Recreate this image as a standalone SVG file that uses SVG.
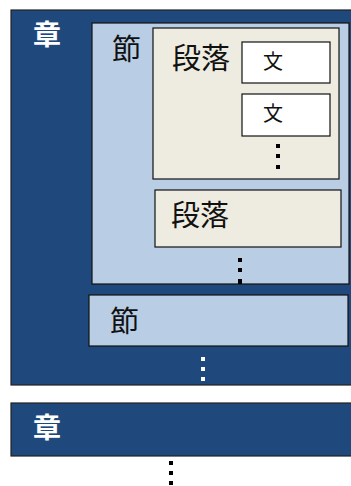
<svg xmlns="http://www.w3.org/2000/svg" width="351" height="486" viewBox="0 0 351 486">
<style>
.chap{fill:#1F497D;stroke:#222;stroke-width:1.2}
.sec{fill:#B9CDE5;stroke:#111;stroke-width:1.2}
.para{fill:#EEECE1;stroke:#111;stroke-width:1.2}
.sent{fill:#FFFFFF;stroke:#111;stroke-width:1.2}
.lw{font-family:"Noto Sans CJK JP","Noto Sans CJK SC",sans-serif;font-weight:bold;font-size:28px;fill:#FFFFFF}
.lb{font-family:"Noto Sans CJK JP","Noto Sans CJK SC",sans-serif;font-size:29px;fill:#111}
.ls{font-family:"Noto Sans CJK JP","Noto Sans CJK SC",sans-serif;font-size:20px;fill:#111}
.dk{fill:#000}
.dw{fill:#FFF}
</style>
<g id="chapter1">
<rect class="chap" x="11" y="10" width="345" height="375"/>
<text class="lw" x="33" y="45">章</text>
</g>
<g id="section1">
<rect class="sec" x="92" y="23" width="257" height="261"/>
<text class="lb" x="112" y="60">節</text>
</g>
<g id="paragraph1">
<rect class="para" x="153" y="28" width="186" height="151"/>
<text class="lb" x="172" y="69">段落</text>
</g>
<g id="sentence1">
<rect class="sent" x="242" y="42" width="88" height="41"/>
<text class="ls" x="263" y="69">文</text>
</g>
<g id="sentence2">
<rect class="sent" x="242" y="94" width="88" height="42"/>
<text class="ls" x="263" y="121">文</text>
</g>
<g id="paragraph2">
<rect class="para" x="155" y="190" width="186" height="57"/>
<text class="lb" x="171" y="226">段落</text>
</g>
<g id="section2">
<rect class="sec" x="89" y="295" width="259" height="51"/>
<text class="lb" x="110" y="332">節</text>
</g>
<g id="chapter2">
<rect class="chap" x="11" y="403" width="345" height="53"/>
<text class="lw" x="33" y="438">章</text>
</g>
<g id="connectors">
<rect class="dk" x="276" y="144" width="4" height="4"/>
<rect class="dk" x="276" y="154" width="4" height="4"/>
<rect class="dk" x="276" y="165" width="4" height="4"/>
<rect class="dk" x="238" y="258" width="4" height="4"/>
<rect class="dk" x="238" y="268" width="4" height="4"/>
<rect class="dk" x="238" y="279" width="4" height="5"/>
<rect class="dw" x="201" y="357" width="4" height="4"/>
<rect class="dw" x="201" y="367" width="4" height="4"/>
<rect class="dw" x="201" y="377" width="4" height="4"/>
<rect class="dk" x="169" y="461" width="4" height="4"/>
<rect class="dk" x="169" y="471" width="4" height="4"/>
<rect class="dk" x="169" y="481" width="4" height="4"/>
</g>
</svg>
